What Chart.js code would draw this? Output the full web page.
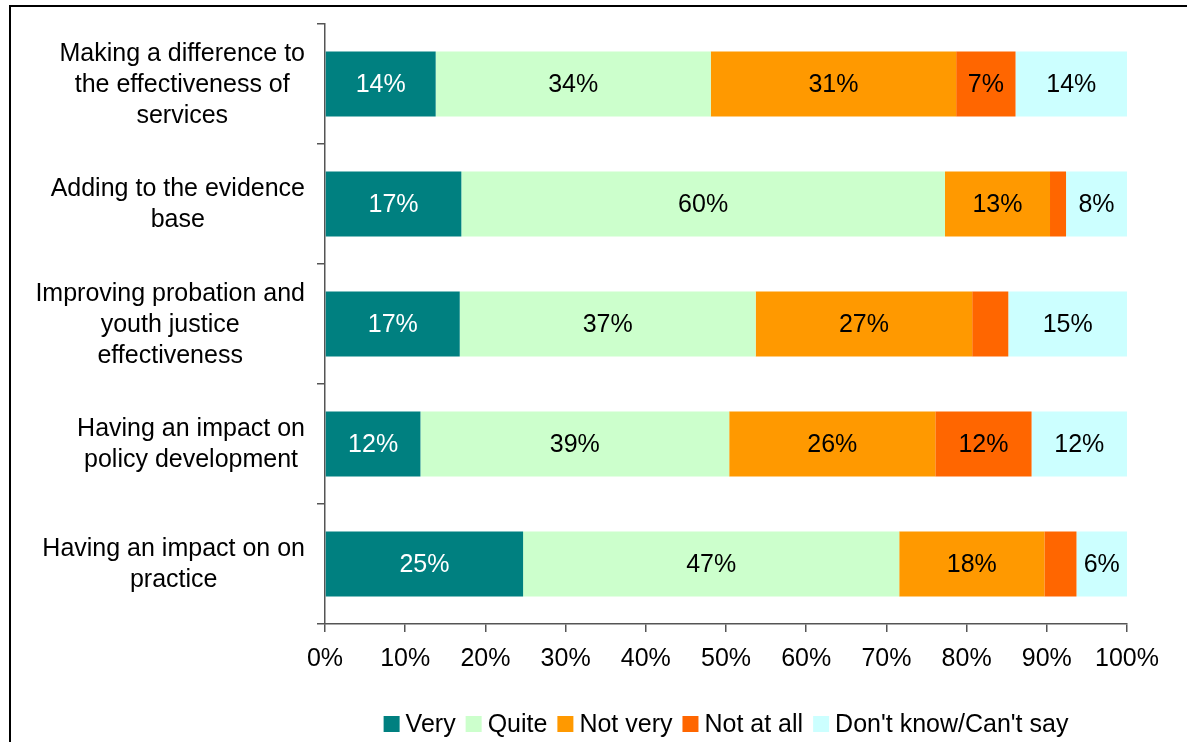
<!DOCTYPE html>
<html>
<head>
<meta charset="utf-8">
<title>Impact ratings</title>
<script src="https://cdn.jsdelivr.net/npm/chart.js@4.4.1/dist/chart.umd.min.js"></script>
<style>
  html, body { margin: 0; padding: 0; background: #fff; overflow: hidden; }
  canvas { display: block; }
</style>
</head>
<body>
<canvas id="chart" width="1187" height="742"></canvas>
<script>
// row labels, each split into the lines it is printed on
const categories = [
    ['Making a difference to', 'the effectiveness of', 'services'],
    ['Adding to the evidence', 'base'],
    ['Improving probation and', 'youth justice', 'effectiveness'],
    ['Having an impact on', 'policy development'],
    ['Having an impact on on', 'practice']
]

const seriesNames = ['Very', 'Quite', 'Not very', 'Not at all', "Don't know/Can't say"]
const seriesColors = ['#008080', '#CCFFCC', '#FF9900', '#FF6600', '#CCFFFF']

// percentages per row (top to bottom)
const very     = [13.8, 17.0, 16.8, 11.9, 24.7]
const quite    = [34.3, 60.3, 36.9, 38.5, 46.9]
const notVery  = [30.6, 13.1, 27.0, 25.7, 18.1]
const notAtAll = [7.4, 2.0, 4.5, 12.0, 4.0]
const dontKnow = [13.9, 7.6, 14.8, 11.9, 6.3]

const xTicks = [0, 10, 20, 30, 40, 50, 60, 70, 80, 90, 100]

const FONT = '"Liberation Sans", Arial, sans-serif'
const FONT_SIZE = 25
const AXIS_COLOR = '#555'

Chart.defaults.font.family = FONT
Chart.defaults.font.size = FONT_SIZE
Chart.defaults.color = '#000'

// white page with the black frame along the top and left
const framePlugin = {
    id: 'frame',
    beforeDraw(chart) {
        const ctx = chart.ctx
        ctx.save()
        ctx.fillStyle = '#fff'
        ctx.fillRect(0, 0, chart.width, chart.height)
        ctx.strokeStyle = '#000'
        ctx.lineWidth = 2
        ctx.beginPath()
        ctx.moveTo(10, chart.height + 2)
        ctx.lineTo(10, 6)
        ctx.lineTo(chart.width + 2, 6)
        ctx.stroke()
        ctx.restore()
    }
}

// category labels: lines centred on each other, block right aligned to the axis
const rowLabelPlugin = {
    id: 'rowLabels',
    afterDraw(chart) {
        const ctx = chart.ctx
        const y = chart.scales.y
        ctx.save()
        ctx.font = FONT_SIZE + 'px ' + FONT
        ctx.fillStyle = '#000'
        ctx.textAlign = 'center'
        ctx.textBaseline = 'middle'
        categories.forEach((lines, i) => {
            const widest = Math.max(...lines.map(l => ctx.measureText(l).width))
            const cx = y.right - 20 - widest / 2
            const cy = y.getPixelForValue(i) + 1
            lines.forEach((line, j) => {
                ctx.fillText(line, cx, cy + (j - (lines.length - 1) / 2) * 31)
            })
        })
        ctx.restore()
    }
}

// percentage in the middle of every segment wide enough to hold it
const valueLabelPlugin = {
    id: 'valueLabels',
    afterDatasetsDraw(chart) {
        const ctx = chart.ctx
        ctx.save()
        ctx.font = FONT_SIZE + 'px ' + FONT
        ctx.textAlign = 'center'
        ctx.textBaseline = 'middle'
        chart.data.datasets.forEach((ds, di) => {
            const meta = chart.getDatasetMeta(di)
            meta.data.forEach((bar, i) => {
                const v = ds.data[i]
                if (v < 5) return
                ctx.fillStyle = di === 0 ? '#fff' : '#000'
                ctx.fillText(Math.round(v) + '%', (bar.x + bar.base) / 2, bar.y + 1)
            })
        })
        ctx.restore()
    }
}

// legend row centred under the plot area
const legendPlugin = {
    id: 'bottomLegend',
    afterDraw(chart) {
        const ctx = chart.ctx
        const area = chart.chartArea
        const box = 16, gap = 6, itemGap = 10
        ctx.save()
        ctx.font = FONT_SIZE + 'px ' + FONT
        ctx.textBaseline = 'middle'
        ctx.textAlign = 'left'
        const widths = seriesNames.map(n => box + gap + ctx.measureText(n).width)
        const total = widths.reduce((a, b) => a + b, 0) + itemGap * (widths.length - 1)
        let x = (area.left + area.right) / 2 - total / 2
        const cy = 724
        seriesNames.forEach((name, i) => {
            ctx.fillStyle = seriesColors[i]
            ctx.fillRect(x, cy - 8, box, box)
            ctx.fillStyle = '#000'
            ctx.fillText(name, x + box + gap, cy + 1)
            x += widths[i] + itemGap
        })
        ctx.restore()
    }
}

const seriesData = [very, quite, notVery, notAtAll, dontKnow]

new Chart(document.getElementById('chart').getContext('2d'), {
    type: 'bar',
    data: {
        labels: categories.map(c => c.join(' ')),
        datasets: seriesNames.map((name, i) => ({
            label: name,
            data: seriesData[i],
            backgroundColor: seriesColors[i],
            borderWidth: 0,
            barPercentage: 0.542,
            categoryPercentage: 1
        }))
    },
    options: {
        indexAxis: 'y',
        responsive: false,
        animation: false,
        devicePixelRatio: 1,
        layout: { padding: { top: 24, right: 60, left: 0, bottom: 0 } },
        plugins: {
            legend: { display: false },
            tooltip: { enabled: false }
        },
        scales: {
            x: {
                stacked: true,
                min: 0,
                max: 100,
                afterBuildTicks: s => { s.ticks = xTicks.map(v => ({ value: v })) },
                ticks: {
                    callback: v => v + '%',
                    padding: 12,
                    maxRotation: 0,
                    color: '#000'
                },
                grid: {
                    drawOnChartArea: false,
                    drawTicks: true,
                    tickLength: 8,
                    lineWidth: 1.5,
                    color: AXIS_COLOR
                },
                border: { color: AXIS_COLOR, width: 1.5 },
                afterFit: s => { s.height = 118 }
            },
            y: {
                stacked: true,
                ticks: { display: false },
                grid: {
                    offset: true,
                    drawOnChartArea: false,
                    drawTicks: true,
                    tickLength: 8,
                    lineWidth: 1.5,
                    color: AXIS_COLOR
                },
                border: { color: AXIS_COLOR, width: 1.5 },
                afterFit: s => { s.width = 325 }
            }
        }
    },
    plugins: [framePlugin, rowLabelPlugin, valueLabelPlugin, legendPlugin]
})
</script>
</body>
</html>
